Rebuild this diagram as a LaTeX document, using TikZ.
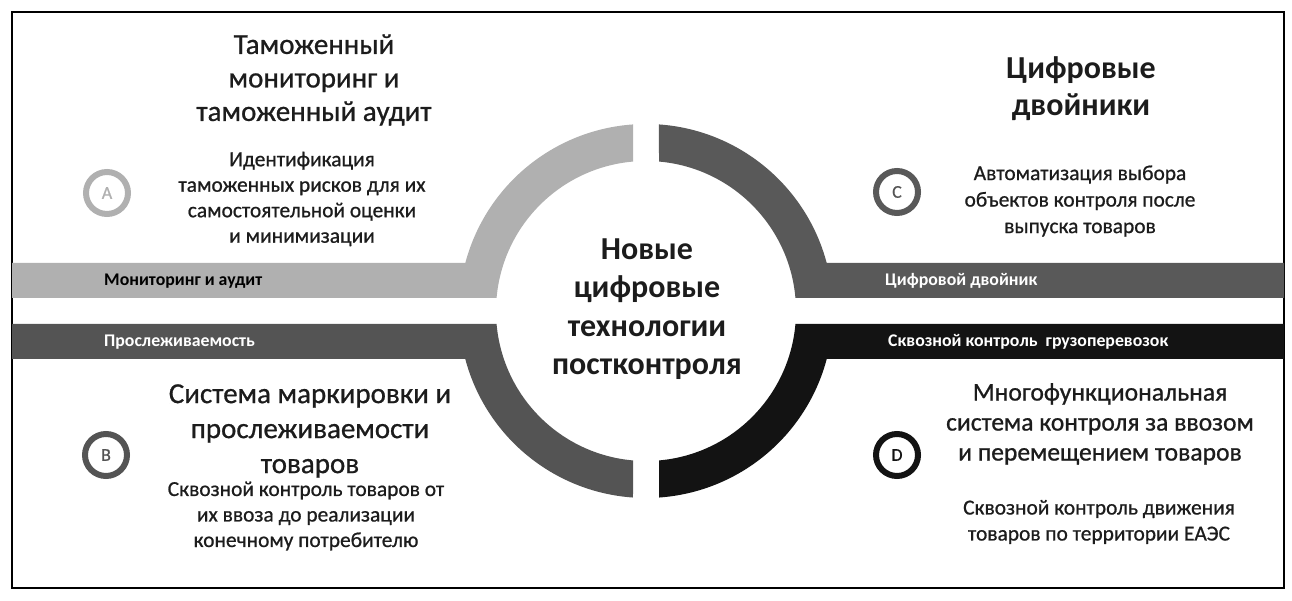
\documentclass[tikz,border=0pt]{standalone}
\usepackage{fontspec}
\setmainfont{Carlito}
\newfontfamily\medfont{Carlito}[FakeBold=0.8]
\definecolor{lightgr}{HTML}{B0B0B0}
\definecolor{midgr}{HTML}{595959}
\definecolor{darkgr}{HTML}{545454}
\definecolor{nearblack}{HTML}{131313}
\definecolor{txt}{HTML}{1C1C1C}
\tikzset{
  heading/.style={align=center, text=txt, font=\medfont\fontsize{29}{33.5}\selectfont},
  desc/.style={align=center, text=txt, font=\medfont\fontsize{21.4}{25.5}\selectfont},
  bandlabel/.style={anchor=west, inner sep=0pt, font=\fontsize{17.8}{20}\selectfont\bfseries},
  badge/.style={circle, draw, line width=6pt, minimum size=42pt, inner sep=0pt, font=\medfont\fontsize{18}{20}\selectfont},
}

\begin{document}
\begin{tikzpicture}[x=1pt,y=1pt]
\useasboundingbox (0,0) rectangle (1292,601);
\draw[line width=2pt] (12,13) rectangle (1284,589); % frame
\begin{scope}[shift={(646,290)}]
\fill[lightgr] (-634,48) -- (-180.7,48) arc[start angle=165.13, end angle=93.99, radius=187]
  -- (94.97:150) arc[start angle=94.97, end angle=175.03, radius=150] -- (-634,13) -- cycle; % A
\fill[midgr] (638,48) -- (180.7,48) arc[start angle=14.87, end angle=86.01, radius=187]
  -- (85.03:150) arc[start angle=85.03, end angle=4.97, radius=150] -- (638,13) -- cycle; % C
\fill[darkgr] (-634,-13) -- (184.97:150) arc[start angle=184.97, end angle=265.03, radius=150]
  -- (266.01:187) arc[start angle=266.01, end angle=194.87, radius=187] -- (-634,-48) -- cycle; % B
\fill[nearblack] (638,-13) -- (-4.97:150) arc[start angle=-4.97, end angle=-85.03, radius=150]
  -- (-86.01:187) arc[start angle=-86.01, end angle=-14.87, radius=187] -- (638,-48) -- cycle; % D
\end{scope}
\node (centre) at (647,292) [align=center, text=txt, font=\fontsize{32}{38.5}\selectfont\bfseries] {Новые\\ цифровые\\ технологии\\ постконтроля};
% band labels
\node[bandlabel, text=black] (lblA) at (104,320) {Мониторинг и аудит};
\node[bandlabel, text=white] (lblB) at (104,259) {Прослеживаемость};
\node[bandlabel, text=white] (lblC) at (885,320) {Цифровой двойник};
\node[bandlabel, text=white] (lblD) at (888,259) {Сквозной контроль\ \ грузоперевозок};
% badges
\node[badge, draw=lightgr, text=lightgr] (badgeA) at (107,408) {A};
\node[badge, draw=darkgr, text=darkgr] (badgeB) at (106,146) {B};
\node[badge, draw=midgr, text=darkgr] (badgeC) at (897,409) {C};
\node[badge, draw=nearblack, text=nearblack] (badgeD) at (897,146) {D};
% quadrant texts
\node[heading] (headA) at (314,521) {Таможенный\\ мониторинг и\\ таможенный аудит};
\node[desc] (descA) at (302,402) {Идентификация\\ таможенных рисков для их\\ самостоятельной оценки\\ и минимизации};
\node[heading, font=\medfont\fontsize{29}{35}\selectfont] (headB) at (310,170) {Система маркировки и\\ прослеживаемости\\ товаров};
\node[desc] (descB) at (306,85) {Сквозной контроль товаров от\\ их ввоза до реализации\\ конечному потребителю};
\node[heading, font=\fontsize{32}{37}\selectfont\bfseries] (headC) at (1081,512) {Цифровые\\ двойники};
\node[desc, font=\medfont\fontsize{21.4}{26.5}\selectfont] (descC) at (1080,400) {Автоматизация выбора\\ объектов контроля после\\ выпуска товаров};
\node[heading, font=\medfont\fontsize{25.6}{30}\selectfont] (headD) at (1100,177) {Многофункциональная\\ система контроля за ввозом\\ и перемещением товаров};
\node[desc, font=\medfont\fontsize{21.4}{26}\selectfont] (descD) at (1099,79) {Сквозной контроль движения\\ товаров по территории ЕАЭС};
\end{tikzpicture}
\end{document}
